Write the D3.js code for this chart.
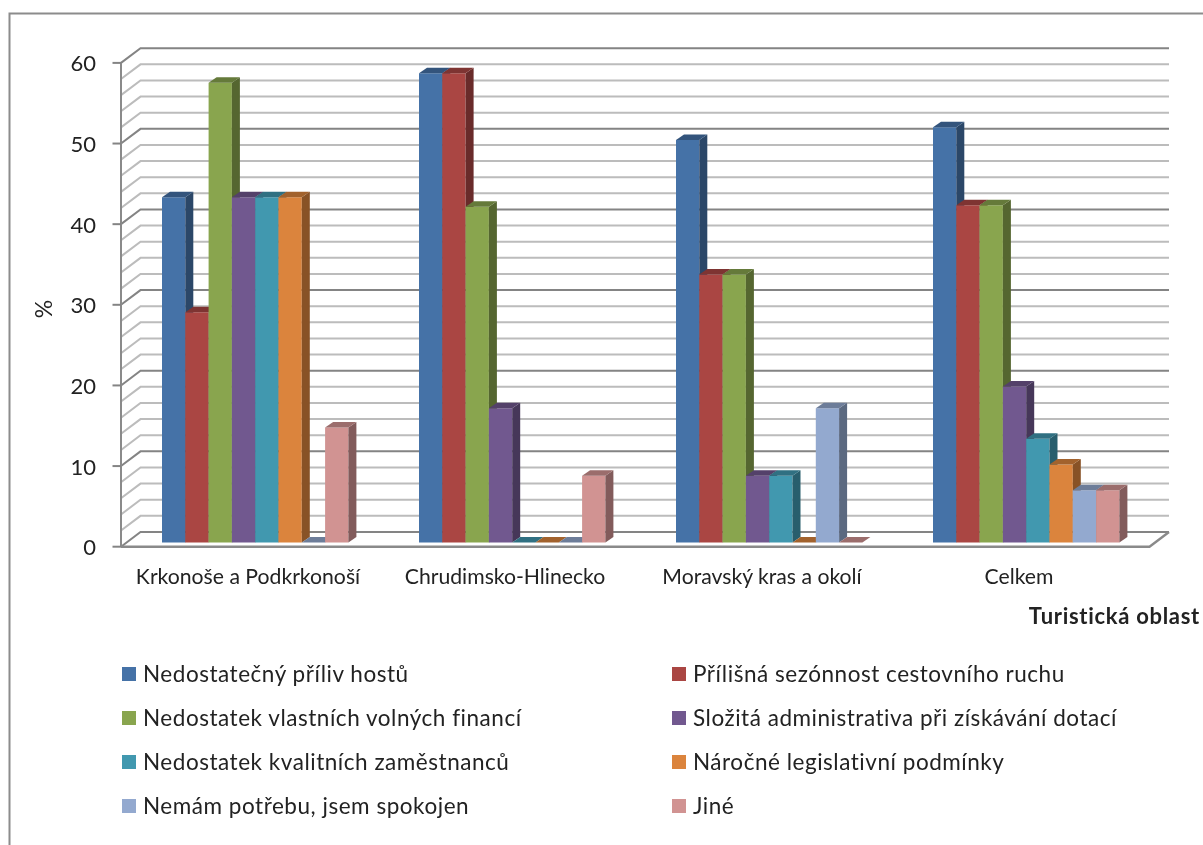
<!DOCTYPE html>
<html><head><meta charset="utf-8">
<script src="https://cdn.jsdelivr.net/npm/d3@7/dist/d3.min.js"></script>
<style>html,body{margin:0;padding:0;background:#fff;overflow:hidden}svg{display:block;filter:blur(0.5px)}text{font-family:Lato,"Open Sans",sans-serif;fill:#222}</style>
</head><body><svg id="c" width="1203" height="845"></svg>
<script>
const categories=["Krkonoše a Podkrkonoší","Chrudimsko-Hlinecko","Moravský kras a okolí","Celkem"];
const seriesNames=["Nedostatečný příliv hostů","Přílišná sezónnost cestovního ruchu","Nedostatek vlastních volných financí","Složitá administrativa při získávání dotací","Nedostatek kvalitních zaměstnanců","Náročné legislativní podmínky","Nemám potřebu, jsem spokojen","Jiné"];
const colors=["#4572A7","#AA4643","#89A54E","#71588F","#4198AF","#DB843D","#93A9CF","#D19392"];
const s1=[42.9,58.3,50.0,51.6];
const s2=[28.6,58.3,33.3,41.9];
const s3=[57.1,41.7,33.3,41.9];
const s4=[42.9,16.7,8.3,19.4];
const s5=[42.9,0,8.3,12.9];
const s6=[42.9,0,0,9.7];
const s7=[0,0,16.7,6.5];
const s8=[14.3,8.3,0,6.5];
const allSeries=[s1,s2,s3,s4,s5,s6,s7,s8];
const yTicks=[0,10,20,30,40,50,60];
const gridValues=d3.range(0,61,2);

const svg=d3.select("#c");
const depthX=8,depthY=5.5,wallX=19.5,wallY=14.7;
const left=121,right=1149.5;
const yFront=d3.scaleLinear().domain([0,60]).range([546.7,62.9]);
const yBar=d3.scaleLinear().domain([0,60]).range([542.6,59.5]);
const x0=d3.scaleBand().domain(categories).range([left,left+1028]);
const x1=d3.scaleBand().domain(d3.range(8)).range([0,186.4]);
const groupOffset=41;
const mix=(c,k)=>{const r=d3.rgb(c);return d3.rgb(r.r*k,r.g*k,r.b*k).formatHex();};

// frame
svg.append("path").attr("d","M9.5,850V13.5H1210").attr("fill","none").attr("stroke","#8c8c8c").attr("stroke-width",2);

// back wall grid and side wall
const g=svg.append("g").attr("fill","none");
gridValues.forEach(v=>{
  const y=yFront(v),major=v%10===0;
  g.append("path").attr("d",`M${left},${y}L${left+wallX},${y-wallY}H${right+wallX}`)
   .attr("stroke",major?"#848484":"#bcbcbc").attr("stroke-width",2);
});
g.append("path").attr("d",`M${left},${yFront(0)}H${right}L${right+wallX},${yFront(0)-wallY}`).attr("stroke","#8a8a8a").attr("stroke-width",2.4);
g.append("path").attr("d",`M${left},${yFront(0)}V${yFront(60)}`).attr("stroke","#8a8a8a").attr("stroke-width",2);
yTicks.forEach(v=>g.append("path").attr("d",`M${left-8.5},${yFront(v)}H${left}`).attr("stroke","#848484").attr("stroke-width",2));

// tick labels
svg.selectAll(".yt").data(yTicks).join("text").attr("class","yt")
 .attr("x",96).attr("y",d=>yFront(d)+8.5).attr("text-anchor","end").attr("font-size",22).text(d=>d);
svg.append("text").attr("transform","translate(52,309) rotate(-90)").attr("text-anchor","middle").attr("font-size",23).text("%");

// bars
categories.forEach((cat,ci)=>{
  const gx=x0(cat)+groupOffset;
  allSeries.forEach((vals,si)=>{
    const v=vals[ci],x=gx+x1(si),w=x1.bandwidth(),b=yBar(0),t=yBar(v),c=colors[si];
    if(v>0){
      svg.append("path").attr("fill",c).attr("d",`M${x},${b}H${x+w}V${t}H${x}Z`);
      svg.append("path").attr("fill",mix(c,0.62)).attr("d",`M${x+w},${b}L${x+w+depthX},${b-depthY}V${t-depthY}L${x+w},${t}Z`);
    }
    svg.append("path").attr("fill",mix(c,0.74)).attr("d",`M${x},${t}L${x+depthX},${t-depthY}H${x+w+depthX}L${x+w},${t}Z`);
  });
});

// category labels
svg.selectAll(".cat").data(categories).join("text").attr("class","cat")
 .attr("x",d=>x0(d)+groupOffset+86).attr("y",584).attr("text-anchor","middle").attr("font-size",21.2).text(d=>d);
svg.append("text").attr("x",1200).attr("y",624).attr("text-anchor","end").attr("font-size",22).attr("letter-spacing",0.7).attr("font-weight",700).attr("fill","#111").text("Turistická oblast");

// legend
const legY=d3.scalePoint().domain(d3.range(4)).range([674,806]);
const legX=[122,672];
seriesNames.forEach((n,i)=>{
  const col=i%2,row=Math.floor(i/2),y=legY(row);
  svg.append("rect").attr("x",legX[col]).attr("y",y-7).attr("width",14).attr("height",14).attr("fill",colors[i]);
  svg.append("text").attr("x",legX[col]+21).attr("y",y+8).attr("font-size",22.5).attr("letter-spacing",0.53).text(n);
});
</script></body></html>
